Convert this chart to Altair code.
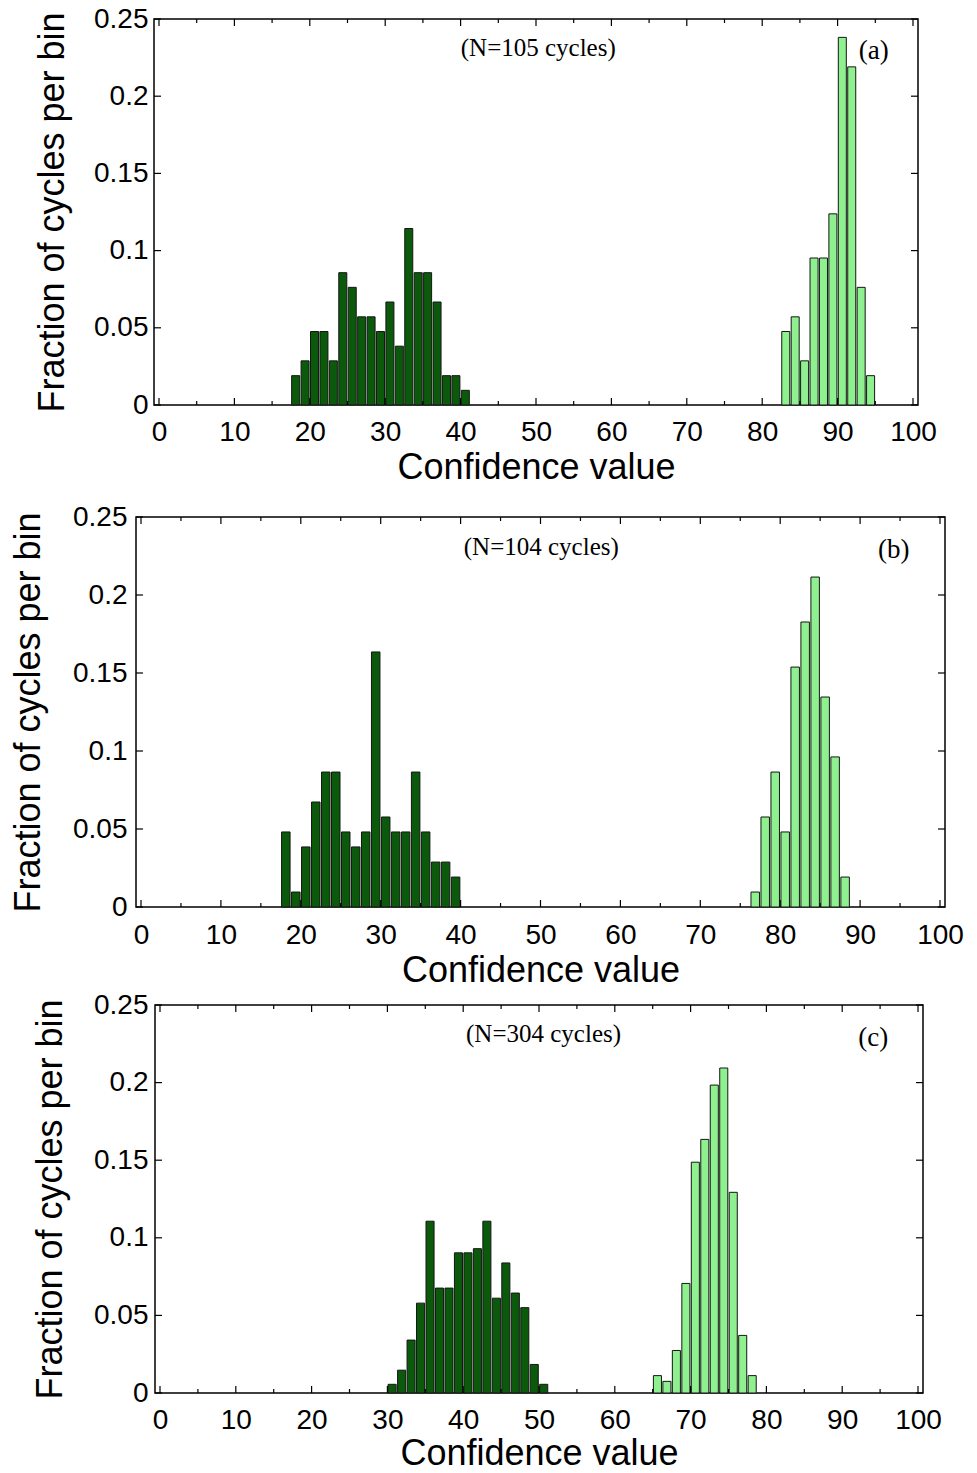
import altair as alt
import pandas as pd

BIN_W = 1.25
DARK = "#0b5a0b"
LIGHT = "#8ef08e"

X_MAJOR = [0, 10, 20, 30, 40, 50, 60, 70, 80, 90, 100]
X_MINOR = [5, 15, 25, 35, 45, 55, 65, 75, 85, 95]
Y_TICKS = [0, 0.05, 0.1, 0.15, 0.2, 0.25]

# Panel (a)  N=105
a_dark_start = 17.5
a_dark = [0.0190, 0.0286, 0.0476, 0.0476, 0.0286, 0.0857, 0.0762, 0.0571, 0.0571, 0.0476,
          0.0667, 0.0381, 0.1143, 0.0857, 0.0857, 0.0667, 0.0190, 0.0190, 0.0095]
a_light_start = 82.5
a_light = [0.0476, 0.0571, 0.0286, 0.0952, 0.0952, 0.1238, 0.2381, 0.2190, 0.0762, 0.0190]

# Panel (b)  N=104
b_dark_start = 17.5
b_dark = [0.0481, 0.0096, 0.0385, 0.0673, 0.0865, 0.0865, 0.0481, 0.0385, 0.0481, 0.1635,
          0.0577, 0.0481, 0.0481, 0.0865, 0.0481, 0.0288, 0.0288, 0.0192]
b_light_start = 76.25
b_light = [0.0096, 0.0577, 0.0865, 0.0481, 0.1538, 0.1827, 0.2115, 0.1346, 0.0962, 0.0192]

# Panel (c)  N=304
c_dark_start = 30.0
c_dark = [0.0056, 0.0147, 0.0341, 0.0579, 0.1107, 0.0676, 0.0676, 0.0903, 0.0903, 0.0930,
          0.1107, 0.0611, 0.0838, 0.0644, 0.0550, 0.0184, 0.0056]
c_light_start = 65.0
c_light = [0.0112, 0.0075, 0.0274, 0.0706, 0.1487, 0.1634, 0.1984, 0.2094, 0.1293, 0.0371, 0.0112]

notes = ["(N=105 cycles)", "(N=104 cycles)", "(N=304 cycles)"]
tags = ["(a)", "(b)", "(c)"]
note_x = [50.3, 50.1, 50.6]
note_y = [0.2315, 0.231, 0.231]
tag_x = [94.8, 94.2, 94.1]
tag_y = [0.229, 0.229, 0.229]


def panel(idx, dark_start, dark_vals, light_start, light_vals, W, H, L, T, B, S,
          ylabpad, ytitlepad, xlabpad, xtitlepad):
    rows = []
    for i, v in enumerate(dark_vals):
        rows.append({"c": dark_start + (i + 0.5) * BIN_W, "f": v, "g": "dark"})
    for i, v in enumerate(light_vals):
        rows.append({"c": light_start + (i + 0.5) * BIN_W, "f": v, "g": "light"})
    df = pd.DataFrame(rows)

    xsc = alt.Scale(domain=[0, 100], nice=False, zero=False)
    ysc = alt.Scale(domain=[0, 0.25], nice=False)
    xax = alt.Axis(values=X_MAJOR, labelPadding=xlabpad, titlePadding=xtitlepad, labelFlush=False)
    yax = alt.Axis(values=Y_TICKS, format="~g", labelPadding=ylabpad,
                   titlePadding=ytitlepad, labelFlush=False)
    XT = "Confidence value"
    YT = "Fraction of cycles per bin"

    def X(f):
        return alt.X(f, scale=xsc, axis=xax, title=XT)

    def Y(f):
        return alt.Y(f, scale=ysc, axis=yax, title=YT)

    bw = W / 100.0 * BIN_W * 0.84

    bars = alt.Chart(df).mark_bar(size=bw, stroke="#161616", strokeWidth=1).encode(
        x=X("c:Q"), y=Y("f:Q"),
        color=alt.Color("g:N", scale=alt.Scale(domain=["dark", "light"], range=[DARK, LIGHT]),
                        legend=None),
    )

    xmaj = pd.DataFrame({"t": X_MAJOR})
    xmin = pd.DataFrame({"t": X_MINOR})
    ytk = pd.DataFrame({"t": Y_TICKS})
    tk = dict(color="black", strokeWidth=1.2)
    layers = [bars]
    for d, ln in ((xmaj, 7), (xmin, 4)):
        layers.append(alt.Chart(d).mark_rule(**tk).encode(
            x=X("t:Q"), y=alt.value(H), y2=alt.value(H - ln)))
        layers.append(alt.Chart(d).mark_rule(**tk).encode(
            x=X("t:Q"), y=alt.value(0), y2=alt.value(ln)))
    layers.append(alt.Chart(ytk).mark_rule(**tk).encode(
        y=Y("t:Q"), x=alt.value(0), x2=alt.value(7)))
    layers.append(alt.Chart(ytk).mark_rule(**tk).encode(
        y=Y("t:Q"), x=alt.value(W), x2=alt.value(W - 7)))

    ann = pd.DataFrame({"x": [note_x[idx]], "y": [note_y[idx]], "s": [notes[idx]]})
    layers.append(alt.Chart(ann).mark_text(font="Liberation Serif", fontSize=25, color="black").encode(
        x=X("x:Q"), y=Y("y:Q"), text="s:N"))
    tg = pd.DataFrame({"x": [tag_x[idx]], "y": [tag_y[idx]], "s": [tags[idx]]})
    layers.append(alt.Chart(tg).mark_text(font="Liberation Serif", fontSize=27, color="black").encode(
        x=X("x:Q"), y=Y("y:Q"), text="s:N"))

    # invisible extent marker so each panel sits where it should
    layers.append(alt.Chart(pd.DataFrame({"k": [0]})).mark_rule(opacity=0).encode(
        x=alt.value(-L), y=alt.value(-T), y2=alt.value(H + B)))

    main = alt.layer(*layers).properties(width=W, height=H)
    spacer = alt.Chart(pd.DataFrame({"k": [0]})).mark_rule(opacity=0).encode(
        x=alt.value(0), y=alt.value(0), y2=alt.value(1)
    ).properties(width=S, height=1, view=alt.ViewBackground(strokeWidth=0, stroke="white"))
    return alt.hconcat(spacer, main, spacing=0)


pa = panel(0, a_dark_start, a_dark, a_light_start, a_light,
           W=764, H=386, L=130, T=14, B=85, S=19,
           ylabpad=6, ytitlepad=22, xlabpad=13, xtitlepad=4)
pb = panel(1, b_dark_start, b_dark, b_light_start, b_light,
           W=809, H=390, L=130, T=25, B=82, S=1,
           ylabpad=9, ytitlepad=25, xlabpad=14, xtitlepad=4)
pc = panel(2, c_dark_start, c_dark, c_light_start, c_light,
           W=768, H=388, L=130, T=14, B=60, S=20,
           ylabpad=7, ytitlepad=24, xlabpad=13, xtitlepad=2)

chart = alt.concat(pa, pb, pc, columns=1, spacing=0, align="none", bounds="full").properties(
    padding={"top": -4, "bottom": -7, "left": -4, "right": 0}, background="white"
).configure_view(stroke="black", strokeWidth=1.5).configure_axis(
    labelFont="Liberation Sans", titleFont="Liberation Sans",
    labelFontSize=28, titleFontSize=36, titleFontWeight="normal",
    labelColor="black", titleColor="black",
    ticks=False, domain=False, grid=False,
)

chart.save("out.html", embed_options={"renderer": "svg", "actions": False})
